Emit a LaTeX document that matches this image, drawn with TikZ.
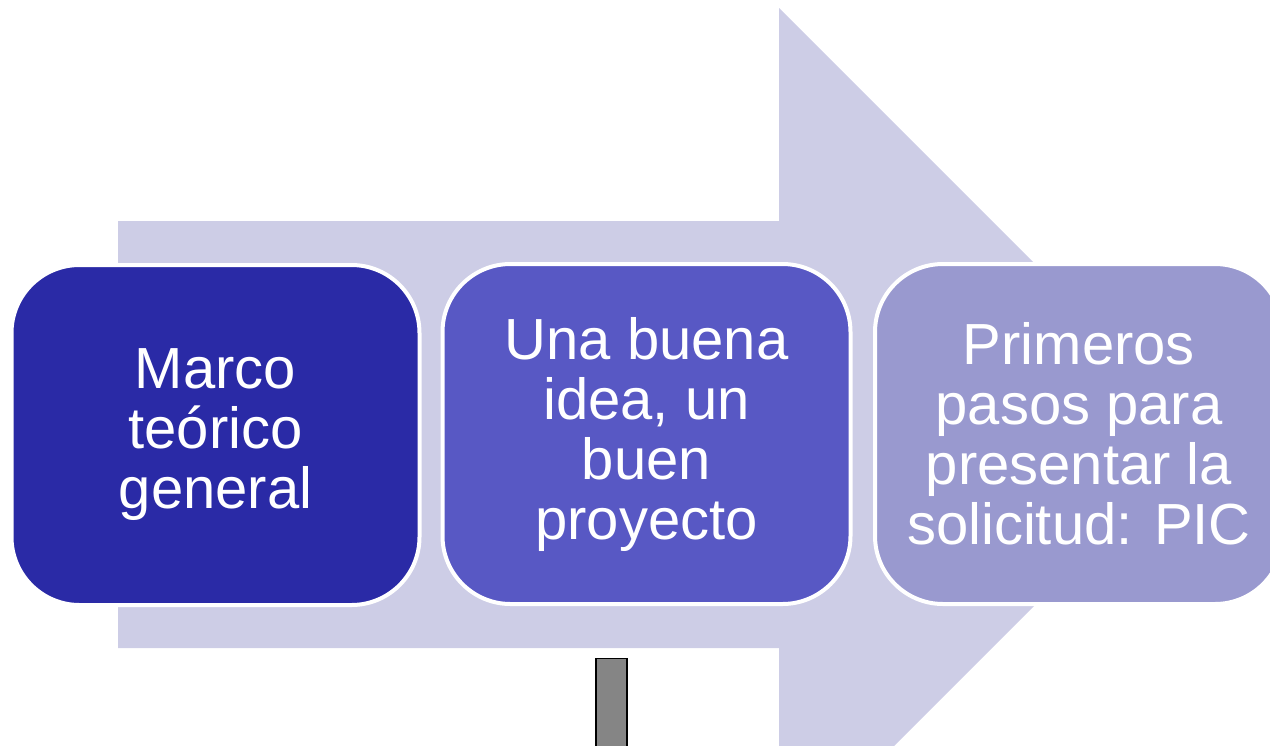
\documentclass[tikz,border=0pt]{standalone}
\usepackage{fontspec}
\setmainfont{Liberation Sans}
\definecolor{arrowc}{RGB}{205,205,230}
\definecolor{boxa}{RGB}{42,42,166}
\definecolor{boxb}{RGB}{88,88,196}
\definecolor{boxc}{RGB}{153,153,207}
\definecolor{barc}{RGB}{133,133,133}
\tikzset{
  stagebox/.style={rectangle, rounded corners=68pt, draw=white, line width=4pt,
    minimum width=408pt, minimum height=340pt, inner sep=0pt, align=center,
    text=white, font=\fontsize{58}{60}\selectfont},
  barbox/.style={rectangle, draw=black, line width=1.5pt, fill=barc,
    minimum width=31pt, minimum height=110pt, inner sep=0pt, anchor=north}
}
\begin{document}
\begin{tikzpicture}[x=1pt,y=-1pt]
\useasboundingbox (0,0) rectangle (1270,745);
\clip (0,0) rectangle (1270,745);
\fill[arrowc] (118,221) -- (779,221) -- (779,8) -- (1205.5,434.5) -- (779,861) -- (779,648) -- (118,648) -- cycle;
\node[stagebox, fill=boxa] (b1) at (215.5,435) {Marco\\teórico\\general};
\node[stagebox, fill=boxb] (b2) at (646.5,434) {Una buena\\idea, un\\buen\\proyecto};
\node[stagebox, fill=boxc] (b3) at (1079,434) {Primeros\\pasos para\\presentar la\\solicitud: PIC};
\node[barbox] (bar) at (611.5,657.5) {};
\end{tikzpicture}
\end{document}
